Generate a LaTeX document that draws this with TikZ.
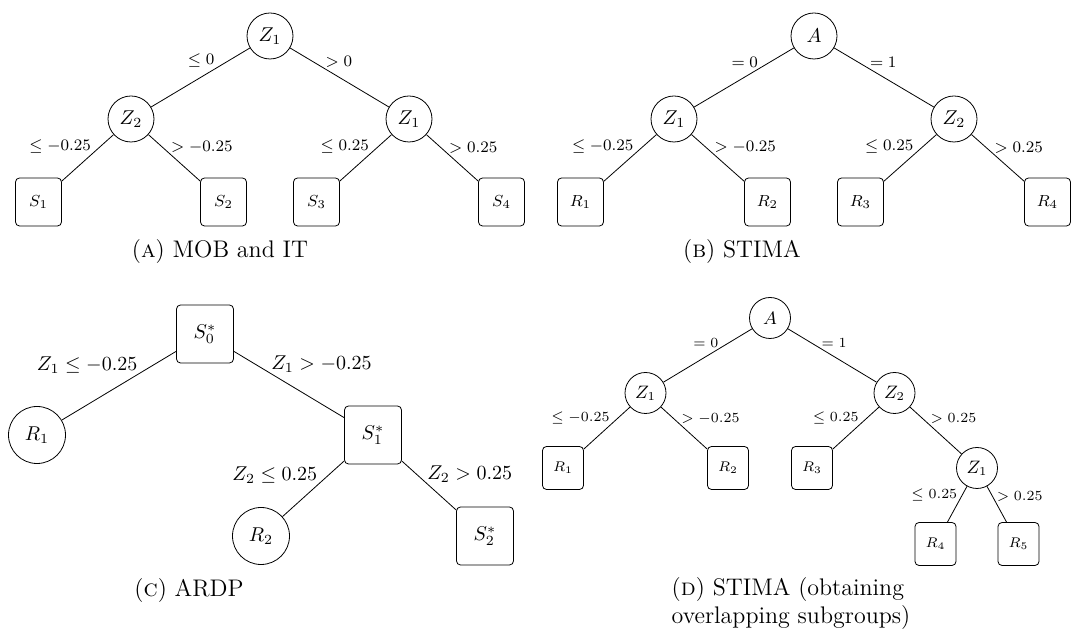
\documentclass[tikz,border=0pt]{standalone}
\usepackage{tikz}
\usetikzlibrary{positioning}
\begin{document}
\begin{tikzpicture}[x=0.5pt, y=-0.5pt, on grid]
  \newcommand{\vgapab}[0]{41.5pt}
  \newcommand{\vgapc}[0]{50.5pt}
  \newcommand{\vgapd}[0]{37.5pt}
  \tikzstyle{split}     = [circle, draw, minimum size=23pt, inner sep=0pt]
  \tikzstyle{leaf}      = [rectangle, draw, rounded corners=2pt, minimum width=23pt, minimum height=24pt, inner sep=0pt, font=\footnotesize]
  \tikzstyle{bigsplit}  = [rectangle, draw, rounded corners=2pt, minimum width=28.5pt, minimum height=29pt, inner sep=0pt]
  \tikzstyle{bigleaf}   = [circle, draw, minimum size=28.5pt, inner sep=0pt]
  \tikzstyle{smallsplit}= [circle, draw, minimum size=20.5pt, inner sep=0pt, font=\small]
  \tikzstyle{smallleaf} = [rectangle, draw, rounded corners=2pt, minimum width=20.5pt, minimum height=21.5pt, inner sep=0pt, font=\scriptsize]
  \tikzstyle{branch}    = [line width=0.4pt]
  \tikzstyle{lblleft}   = [anchor=south east, inner sep=0.3pt, font=\footnotesize]
  \tikzstyle{lblright}  = [anchor=south west, inner sep=0.3pt, font=\footnotesize]
  \tikzstyle{caption}   = [font=\large, inner sep=0pt]
  \useasboundingbox (0,0) rectangle (1073,635);
  % (a) MOB and IT
  \node [split]                                    at (270,36) (mobroot)  {$Z_1$};
  \node [split, below left  = \vgapab and 69.5pt of mobroot]  (mobleft)  {$Z_2$};
  \node [split, below right = \vgapab and 69.5pt of mobroot]  (mobright) {$Z_1$};
  \node [leaf,  below left  = \vgapab and 46.25pt of mobleft]  (mobsa) {$S_1$};
  \node [leaf,  below right = \vgapab and 46.25pt of mobleft]  (mobsb) {$S_2$};
  \node [leaf,  below left  = \vgapab and 46.25pt of mobright] (mobsc) {$S_3$};
  \node [leaf,  below right = \vgapab and 46.25pt of mobright] (mobsd) {$S_4$};
  \draw [branch] (mobroot)  -- node [lblleft,  pos=0.35] {$\le 0$}     (mobleft);
  \draw [branch] (mobroot)  -- node [lblright, pos=0.35] {$> 0$}       (mobright);
  \draw [branch] (mobleft)  -- node [lblleft,  pos=0.42] {$\le -0.25$} (mobsa);
  \draw [branch] (mobleft)  -- node [lblright, pos=0.42] {$> -0.25$}   (mobsb);
  \draw [branch] (mobright) -- node [lblleft,  pos=0.42] {$\le 0.25$}  (mobsc);
  \draw [branch] (mobright) -- node [lblright, pos=0.42] {$> 0.25$}    (mobsd);
  \node [caption] at (220,252) (mobcap) {(\textsc{a}) MOB and IT};
  % (b) STIMA
  \node [split]                                    at (814,36) (stimaroot)  {$A$};
  \node [split, below left  = \vgapab and 70pt of stimaroot]  (stimaleft)  {$Z_1$};
  \node [split, below right = \vgapab and 70pt of stimaroot]  (stimaright) {$Z_2$};
  \node [leaf,  below left  = \vgapab and 46.75pt of stimaleft]  (stimara) {$R_1$};
  \node [leaf,  below right = \vgapab and 46.75pt of stimaleft]  (stimarb) {$R_2$};
  \node [leaf,  below left  = \vgapab and 46.75pt of stimaright] (stimarc) {$R_3$};
  \node [leaf,  below right = \vgapab and 46.75pt of stimaright] (stimard) {$R_4$};
  \draw [branch] (stimaroot)  -- node [lblleft,  pos=0.35] {$= 0$}       (stimaleft);
  \draw [branch] (stimaroot)  -- node [lblright, pos=0.35] {$= 1$}       (stimaright);
  \draw [branch] (stimaleft)  -- node [lblleft,  pos=0.42] {$\le -0.25$} (stimara);
  \draw [branch] (stimaleft)  -- node [lblright, pos=0.42] {$> -0.25$}   (stimarb);
  \draw [branch] (stimaright) -- node [lblleft,  pos=0.42] {$\le 0.25$}  (stimarc);
  \draw [branch] (stimaright) -- node [lblright, pos=0.42] {$> 0.25$}    (stimard);
  \node [caption] at (742,252) (stimacap) {(\textsc{b}) STIMA};
  % (c) ARDP
  \node [bigsplit]                                   at (205,334) (ardpsa) {$S_0^*$};
  \node [bigleaf,  below left  = \vgapc and 84pt of ardpsa] (ardpra) {$R_1$};
  \node [bigsplit, below right = \vgapc and 84pt of ardpsa] (ardpsb) {$S_1^*$};
  \node [bigleaf,  below left  = \vgapc and 56pt of ardpsb] (ardprb) {$R_2$};
  \node [bigsplit, below right = \vgapc and 56pt of ardpsb] (ardpsc) {$S_2^*$};
  \draw [branch] (ardpsa) -- node [lblleft,  pos=0.33, font=\normalsize] {$Z_1 \le -0.25$} (ardpra);
  \draw [branch] (ardpsa) -- node [lblright, pos=0.33, font=\normalsize] {$Z_1 > -0.25$}   (ardpsb);
  \draw [branch] (ardpsb) -- node [lblleft,  pos=0.42, font=\normalsize] {$Z_2 \le 0.25$}  (ardprb);
  \draw [branch] (ardpsb) -- node [lblright, pos=0.45, font=\normalsize] {$Z_2 > 0.25$}    (ardpsc);
  \node [caption] at (189,591) (ardpcap) {(\textsc{c}) ARDP};
  % (d) STIMA, overlapping subgroups
  \node [smallsplit]                                    at (770,318) (ovroot)  {$A$};
  \node [smallsplit, below left  = \vgapd and 62.25pt of ovroot]  (ovleft)  {$Z_1$};
  \node [smallsplit, below right = \vgapd and 62.25pt of ovroot]  (ovright) {$Z_2$};
  \node [smallleaf,  below left  = \vgapd and 41.25pt of ovleft]  (ovra)    {$R_1$};
  \node [smallleaf,  below right = \vgapd and 41.25pt of ovleft]  (ovrb)    {$R_2$};
  \node [smallleaf,  below left  = \vgapd and 41.25pt of ovright] (ovrc)    {$R_3$};
  \node [smallsplit, below right = \vgapd and 41.25pt of ovright] (ovdeep)  {$Z_1$};
  \node [smallleaf,  below left  = 38pt and 20.75pt of ovdeep]    (ovrd)    {$R_4$};
  \node [smallleaf,  below right = 38pt and 20.75pt of ovdeep]    (ovre)    {$R_5$};
  \draw [branch] (ovroot)  -- node [lblleft,  pos=0.37, font=\scriptsize] {$= 0$}       (ovleft);
  \draw [branch] (ovroot)  -- node [lblright, pos=0.37, font=\scriptsize] {$= 1$}       (ovright);
  \draw [branch] (ovleft)  -- node [lblleft,  pos=0.42, font=\scriptsize] {$\le -0.25$} (ovra);
  \draw [branch] (ovleft)  -- node [lblright, pos=0.42, font=\scriptsize] {$> -0.25$}   (ovrb);
  \draw [branch] (ovright) -- node [lblleft,  pos=0.42, font=\scriptsize] {$\le 0.25$}  (ovrc);
  \draw [branch] (ovright) -- node [lblright, pos=0.38, font=\scriptsize] {$> 0.25$}    (ovdeep);
  \draw [branch] (ovdeep)  -- node [lblleft,  pos=0.45, font=\scriptsize] {$\le 0.25$}  (ovrd);
  \draw [branch] (ovdeep)  -- node [lblright, pos=0.45, font=\scriptsize] {$> 0.25$}    (ovre);
  \node [caption, align=left] at (791,604) (ovcap) {(\textsc{d}) STIMA (obtaining\\overlapping subgroups)};
\end{tikzpicture}
\end{document}
